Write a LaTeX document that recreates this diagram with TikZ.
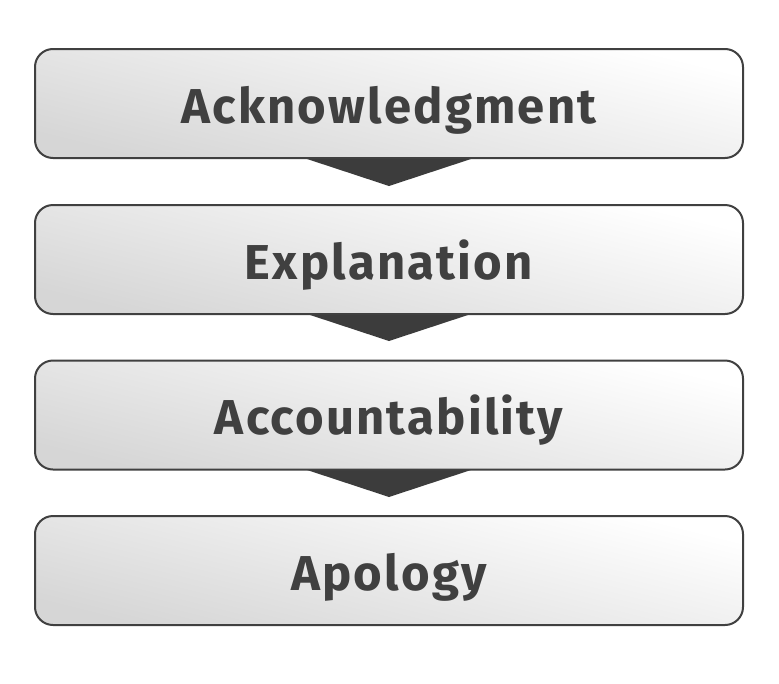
\documentclass[tikz,border=0pt]{standalone}
\usepackage{fontspec}
\setmainfont{Fira Sans}[LetterSpace=4.5]
\begin{document}
\begin{tikzpicture}[x=1pt,y=-1pt]
\definecolor{edgegray}{HTML}{404040}
\definecolor{fillgray}{HTML}{D6D6D6}
\definecolor{arrowgray}{HTML}{3C3C3C}
\tikzset{
  stepbox/.style={draw=edgegray, line width=2pt, rounded corners=18pt,
    minimum width=708pt, minimum height=109pt, inner sep=0pt,
    top color=white, bottom color=fillgray, shading angle=-14,
    font=\fontsize{49}{58}\selectfont\bfseries, text=edgegray,
    text height=39pt, text depth=0pt},
  pointer/.style={fill=arrowgray, draw=none}
}
\useasboundingbox (0,0) rectangle (779,683);
\fill[white] (0,0) rectangle (779,683);
\coordinate (t1) at (389,186);
\coordinate (t2) at (389,341);
\coordinate (t3) at (389,497);
\fill[pointer] (301,157) -- (t1) -- (477,157) -- cycle;
\fill[pointer] (301,312) -- (t2) -- (477,312) -- cycle;
\fill[pointer] (301,468) -- (t3) -- (477,468) -- cycle;
\node[stepbox] (b1) at (389,103.5) {Acknowledgment};
\node[stepbox] (b2) at (389,259.5) {Explanation};
\node[stepbox] (b3) at (389,415) {Accountability};
\node[stepbox] (b4) at (389,570.5) {Apology};
\end{tikzpicture}
\end{document}
